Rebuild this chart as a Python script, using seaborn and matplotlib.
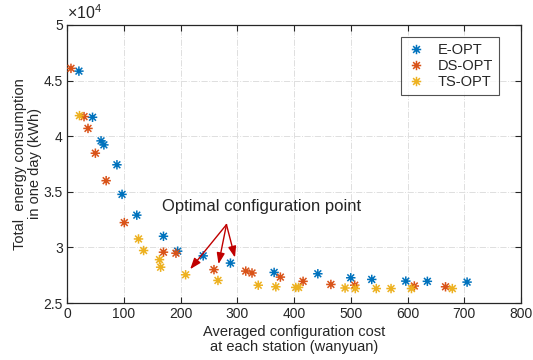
import numpy as np
import pandas as pd
import matplotlib
matplotlib.use("Agg")
import matplotlib.pyplot as plt
from matplotlib.path import Path
from matplotlib.ticker import FuncFormatter
import seaborn as sns

# Averaged configuration cost (wanyuan) and daily energy consumption (kWh)
e_opt_cost = [21, 45, 60, 65, 88, 97, 123, 170, 195, 240, 288, 365, 442, 500, 537, 597, 635, 705]
e_opt_energy = [45850, 41700, 39580, 39220, 37430, 34770, 32900, 31000, 29660, 29240, 28590,
                27750, 27630, 27270, 27120, 26970, 26950, 26880]

ds_opt_cost = [7, 30, 37, 50, 69, 101, 170, 192, 259, 315, 326, 376, 416, 465, 507, 612, 667]
ds_opt_energy = [46100, 41760, 40700, 38470, 36000, 32230, 29570, 29480, 28000, 27870, 27700,
                 27330, 26950, 26670, 26600, 26530, 26460]

ts_opt_cost = [22, 126, 135, 163, 165, 209, 266, 337, 368, 403, 408, 490, 508, 545, 571, 607, 679]
ts_opt_energy = [41850, 30760, 29720, 28900, 28220, 27540, 27030, 26600, 26460, 26400, 26400,
                 26350, 26300, 26300, 26300, 26300, 26300]

series_names = ["E-OPT", "DS-OPT", "TS-OPT"]
series_colors = ["#0072BD", "#D95319", "#EDB120"]

# Optimal configuration points highlighted by arrows
optimal_cost = [209, 259, 288]
optimal_energy = [27540, 28000, 28590]

df = pd.concat([
    pd.DataFrame({"cost": e_opt_cost, "energy": e_opt_energy, "method": series_names[0]}),
    pd.DataFrame({"cost": ds_opt_cost, "energy": ds_opt_energy, "method": series_names[1]}),
    pd.DataFrame({"cost": ts_opt_cost, "energy": ts_opt_energy, "method": series_names[2]}),
], ignore_index=True)

# Asterisk marker: a plus overlaid with a cross
d = 0.72
asterisk = Path(
    [(-1, 0), (1, 0), (0, -1), (0, 1), (-d, -d), (d, d), (-d, d), (d, -d)],
    [Path.MOVETO, Path.LINETO] * 4,
)

sns.set_theme(style="white")
plt.rcParams["font.family"] = ["Liberation Sans", "DejaVu Sans"]
plt.rcParams["mathtext.fontset"] = "custom"
plt.rcParams["mathtext.rm"] = "Liberation Sans"

fig = plt.figure(figsize=(5.33, 3.60), dpi=100)
ax = fig.add_axes([0.1257, 0.1583, 0.8518, 0.7723])

sns.scatterplot(
    data=df, x="cost", y="energy", hue="method",
    hue_order=series_names, palette=series_colors,
    marker=asterisk, s=46, linewidth=1.1, edgecolor="face",
    ax=ax, zorder=3,
)

ax.set_xlim(0, 800)
ax.set_ylim(25000, 50000)
ax.set_xticks(np.arange(0, 801, 100))
ax.set_yticks(np.arange(25000, 50001, 5000))
ax.yaxis.set_major_formatter(FuncFormatter(lambda v, p: f"{v / 1e4:g}"))
ax.text(0.0, 1.012, r"$\times\mathregular{10^{4}}$", transform=ax.transAxes,
        fontsize=11.5, color="#262626", ha="left", va="bottom")

ax.grid(True, color="#dedede", linestyle="-.", linewidth=0.7)
ax.set_axisbelow(True)
for sp in ax.spines.values():
    sp.set_color("#262626")
    sp.set_linewidth(0.9)
    sp.set_visible(True)
ax.tick_params(direction="in", length=4, width=0.8, color="#262626",
               top=True, right=True, bottom=True, left=True,
               labelsize=10, labelcolor="#262626", pad=3)

ax.set_xlabel("Averaged configuration cost\nat each station (wanyuan)",
              fontsize=10.5, color="#262626", labelpad=3, linespacing=1.1)
ax.set_ylabel("Total  energy consumption\nin one day (kWh)",
              fontsize=10.5, color="#262626", labelpad=1, linespacing=1.1)

# Annotation with arrows pointing to the optimal points
ax.text(167, 33720, "Optimal configuration point", fontsize=12,
        color="#262626", va="center", ha="left")
start = (281, 32050)
for cx, cy in zip(optimal_cost, optimal_energy):
    ax.annotate("", xy=(cx + 8, cy + 500), xytext=start,
                arrowprops=dict(arrowstyle="-|>,head_length=0.55,head_width=0.2",
                                color="#C00000", lw=1.0, shrinkA=0, shrinkB=0),
                zorder=4)

handles, labels = ax.get_legend_handles_labels()
leg = ax.legend(handles, labels, loc="upper right", bbox_to_anchor=(0.9515, 0.957),
                borderaxespad=0, frameon=True, fancybox=False, edgecolor="#262626",
                fontsize=10.5, handlelength=1.2, handletextpad=0.9, borderpad=0.4,
                labelspacing=0.15, title=None)
leg.get_frame().set_linewidth(0.8)
for t in leg.get_texts():
    t.set_color("#262626")

fig.savefig("out.png", dpi=100)
